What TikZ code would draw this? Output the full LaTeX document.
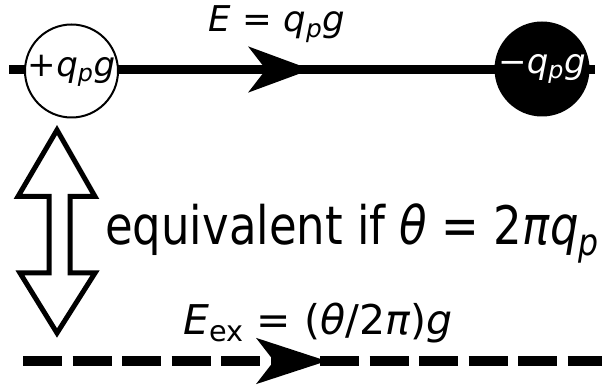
\documentclass[tikz,border=0pt]{standalone}
\usepackage{fontspec}
\setmainfont{DejaVu Sans}
\usepackage{tikz}
\usetikzlibrary{arrows.meta}
\usetikzlibrary{decorations.markings}
\tikzset{
	charge/.style={circle,minimum size=93pt,inner sep=0pt,line width=2pt,draw=black},
	fieldline/.style={line width=9.5pt},
	fieldhead/.style 2 args={postaction={decorate,decoration={markings,mark=at position #1 with {\arrow{Stealth[length=#2,width=45pt,inset=17pt]}}}}},
}
\newcommand{\qp}{\textit{q}\textsubscript{\textit{p}}}

\begin{document}
\begin{tikzpicture}[x=1pt,y=-1pt,font=\fontsize{34}{40}\selectfont]
\useasboundingbox (0,0) rectangle (602,387);

% field between the charges
\coordinate (west) at (9,69.5);
\coordinate (east) at (595,69.5);
\draw [fieldline,fieldhead={302pt}{62pt}] (west)--(east);
\node (plus) [charge,fill=white] at (71.5,71) {+\qp\textit{g}};
\node (minus) [charge,fill=black,text=white] at (542,69) {−\qp\textit{g}};
\node (Elabel) [anchor=base,inner sep=0pt,font=\fontsize{35.5}{40}\selectfont] at (277,32) {\textit{E} = \qp\textit{g}};

% extended field
\coordinate (dwest) at (23,361);
\coordinate (deast) at (602,361);
\draw [fieldline,dash pattern=on 39pt off 10.5pt,fieldhead={304pt}{70pt}] (dwest)--(deast);
\node (Eex) [anchor=base,inner sep=0pt,font=\fontsize{41}{46}\selectfont] at (318,334) {\textit{E}\textsubscript{ex} = (\textit{θ}/2\textit{π})\textit{g}};

% equivalence
\draw [line width=5pt,fill=white] (57,130)--(95,196.5)--(70,196.5)--(70,273)--(95,273)--(57,333)--(20,273)--(49,273)--(49,196.5)--(18,196.5)--cycle;
\node (equiv) [anchor=base west,inner sep=0pt,font=\fontsize{45}{50}\selectfont] at (105,245) {\scalebox{1}[1.18]{equivalent if \textit{θ} = 2\textit{π}\qp}};

\end{tikzpicture}
\end{document}
